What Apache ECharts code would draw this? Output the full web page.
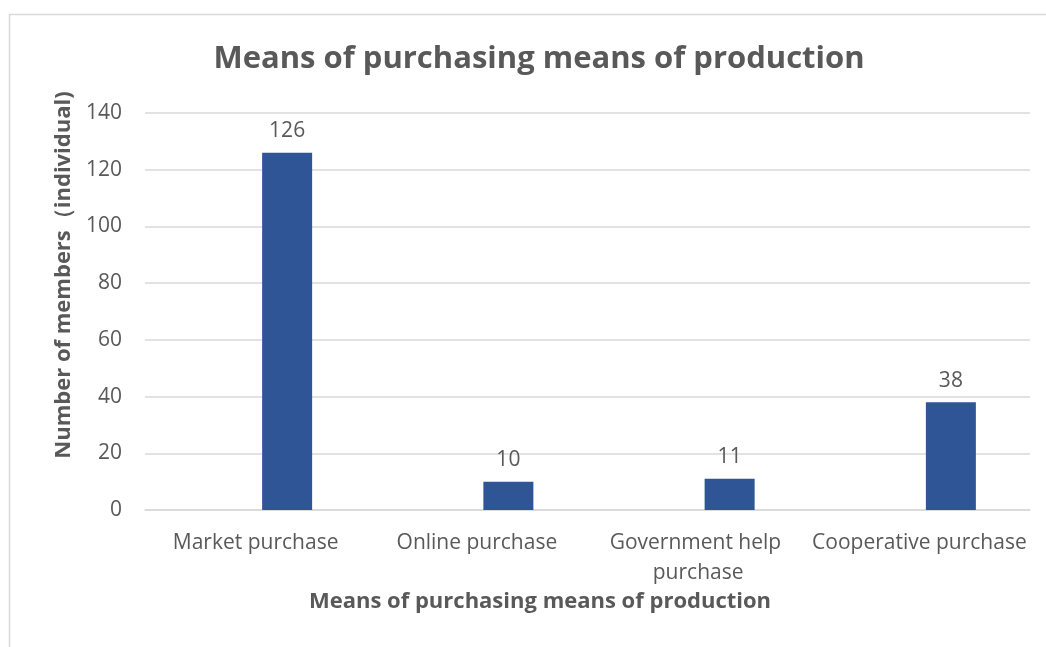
<!DOCTYPE html>
<html>
<head>
<meta charset="utf-8">
<script src="https://cdn.jsdelivr.net/npm/echarts@6/dist/echarts.min.js"></script>
<style>html,body{margin:0;padding:0;background:#fff;}#c{width:1046px;height:647px;}</style>
</head>
<body>
<div id="c"></div>
<script>
var categories = ['Market purchase', 'Online purchase', 'Government help purchase', 'Cooperative purchase'];
var members = [126, 10, 11, 38];
var yTicks = [0, 20, 40, 60, 80, 100, 120, 140];
var chartTitle = 'Means of purchasing means of production';
var xName = 'Means of purchasing means of production';
var yName = 'Number of members\uFF08individual)';

var FONT = '"Open Sans"';
var GRAY = '#595959';
var chart = echarts.init(document.getElementById('c'));
chart.setOption({
  animation: false,
  backgroundColor: '#fff',
  title: [
    { text: chartTitle, left: 534, top: 39, textAlign: 'center',
      textStyle: { fontFamily: FONT, fontSize: 31, fontWeight: 'bold', color: GRAY } },
    { text: xName, left: 535, top: 586, textAlign: 'center',
      textStyle: { fontFamily: FONT, fontSize: 22, fontWeight: 'bold', color: GRAY } }
  ],
  graphic: [
    { type: 'rect', shape: { x: 9.5, y: 14.5, width: 1100, height: 700 }, silent: true,
      style: { fill: 'none', stroke: '#d9d9d9', lineWidth: 1.5 } },
    { type: 'text', x: 64, y: 275, rotation: Math.PI / 2, silent: true,
      style: { text: yName, fontFamily: FONT, fontSize: 22, fontWeight: 'bold', fill: GRAY,
               align: 'center', verticalAlign: 'middle' } }
  ],
  grid: { left: 145, right: 16, top: 113, bottom: 137, containLabel: false },
  xAxis: {
    type: 'category', data: categories,
    axisLine: { show: true, lineStyle: { color: '#d9d9d9', width: 1.5 } },
    axisTick: { show: false },
    axisLabel: { color: GRAY, fontFamily: FONT, fontSize: 21, margin: 18, interval: 0,
                 width: 221, overflow: 'break', lineHeight: 30 }
  },
  yAxis: {
    type: 'value', min: 0, max: 140, interval: 20,
    axisLine: { show: false }, axisTick: { show: false },
    splitLine: { lineStyle: { color: '#d9d9d9', width: 1.5 } },
    axisLabel: { color: GRAY, fontFamily: FONT, fontSize: 21, margin: 23,
                 customValues: yTicks }
  },
  series: [
    { type: 'bar', name: 'blank', data: categories.map(function () { return null; }),
      barWidth: 50, barGap: '26%' },
    { type: 'bar', name: 'Members', data: members, barWidth: 50, barGap: '26%',
      itemStyle: { color: '#2F5597' },
      label: { show: true, position: 'top', distance: 11, color: GRAY,
               fontFamily: FONT, fontSize: 21 } }
  ]
});
</script>
</body>
</html>
